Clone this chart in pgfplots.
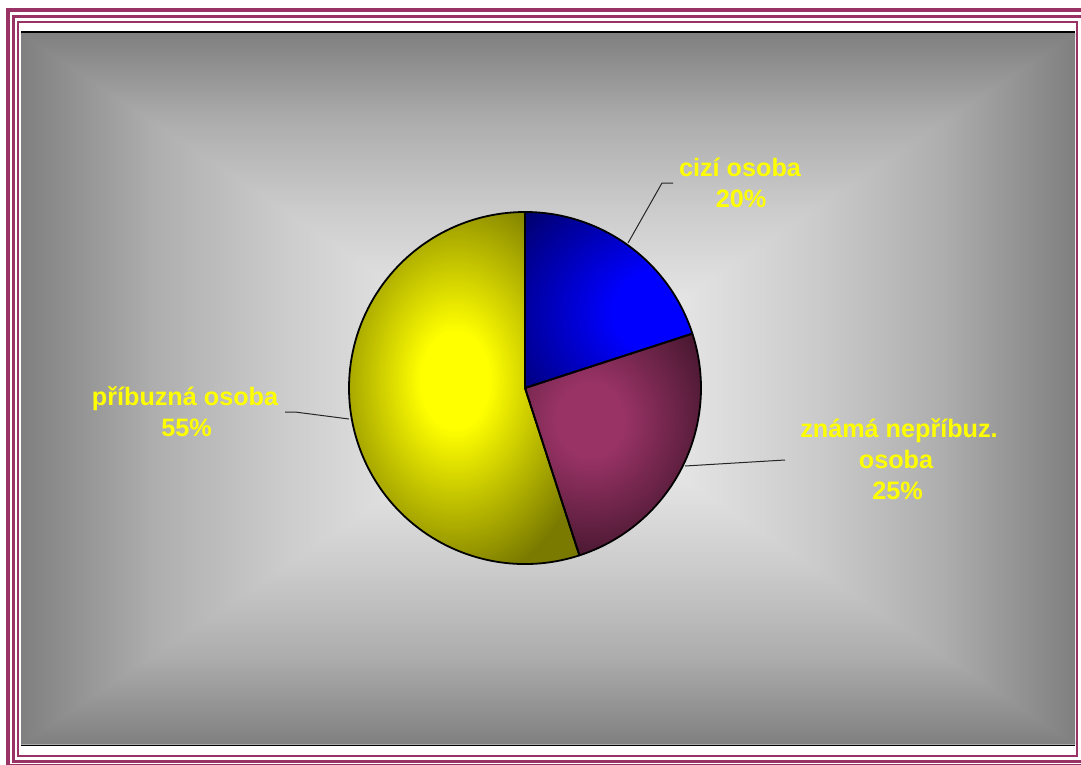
\documentclass[border=0pt]{standalone}
\usepackage{fontspec}
\setmainfont{Liberation Sans}
\usepackage{pgfplots}
\pgfplotsset{compat=1.18}
\usepackage{pgfplotstable}

\definecolor{framec}{HTML}{993366}
\definecolor{c0}{gray}{0.50}
\definecolor{c25}{gray}{0.68}
\definecolor{c50}{gray}{0.80}
\definecolor{c75}{gray}{0.895}
\definecolor{c100}{gray}{0.955}
\definecolor{blueB}{HTML}{0000FF}
\definecolor{blueD}{HTML}{000066}
\definecolor{marB}{HTML}{993366}
\definecolor{marD}{HTML}{3E1429}
\definecolor{yelB}{HTML}{FFFF00}
\definecolor{yelD}{HTML}{7A7A00}
\definecolor{lab}{HTML}{FFFF00}

\pgfdeclareverticalshading{bgTop}{100bp}{color(0bp)=(c100); color(25bp)=(c100); color(37.5bp)=(c75); color(50bp)=(c50); color(62.5bp)=(c25); color(75bp)=(c0); color(100bp)=(c0)}
\pgfdeclareverticalshading{bgBot}{100bp}{color(0bp)=(c0); color(25bp)=(c0); color(37.5bp)=(c25); color(50bp)=(c50); color(62.5bp)=(c75); color(75bp)=(c100); color(100bp)=(c100)}
\pgfdeclarehorizontalshading{bgLeft}{100bp}{color(0bp)=(c0); color(25bp)=(c0); color(37.5bp)=(c25); color(50bp)=(c50); color(62.5bp)=(c75); color(75bp)=(c100); color(100bp)=(c100)}
\pgfdeclarehorizontalshading{bgRight}{100bp}{color(0bp)=(c100); color(25bp)=(c100); color(37.5bp)=(c75); color(50bp)=(c50); color(62.5bp)=(c25); color(75bp)=(c0); color(100bp)=(c0)}
\pgfdeclareradialshading{blueS}{\pgfpoint{0bp}{0bp}}{color(0bp)=(blueB); color(7bp)=(blueB); color(25bp)=(blueD); color(50bp)=(blueD)}
\pgfdeclareradialshading{marS}{\pgfpoint{0bp}{0bp}}{color(0bp)=(marB); color(6bp)=(marB); color(25bp)=(marD); color(50bp)=(marD)}
\pgfdeclareradialshading{yelS}{\pgfpoint{0bp}{0bp}}{color(0bp)=(yelB); color(6bp)=(yelB); color(25bp)=(yelD); color(50bp)=(yelD)}

\pgfplotstableread{
part value
1 20
2 25
3 55
}\piedata

\begin{document}
\begin{tikzpicture}
\pgfplotstablegetelem{0}{value}\of\piedata\edef\vA{\pgfplotsretval}
\pgfplotstablegetelem{1}{value}\of\piedata\edef\vB{\pgfplotsretval}
\pgfplotstablegetelem{2}{value}\of\piedata\edef\vC{\pgfplotsretval}
\pgfmathsetmacro\aO{90}
\pgfmathsetmacro\aA{90-3.6*\vA}
\pgfmathsetmacro\aB{\aA-3.6*\vB}
\pgfmathsetmacro\aC{\aB-3.6*\vC}
\def\R{88pt}
\fill[white] (0,0) rectangle (540.5pt,382.5pt);
\begin{axis}[at={(0,0)}, anchor=south west, scale only axis,
  width=540.5pt, height=382.5pt, xmin=0, xmax=1081, ymin=0, ymax=765,
  y dir=reverse, hide axis, clip=false]
% background gradient (rectangular, from centre)
\begin{scope}
\clip (axis cs:21,33) rectangle (axis cs:1075,744.5);
\shade[shading=bgTop] (axis cs:16,33) -- (axis cs:1080,33) -- (axis cs:553,388.5) -- (axis cs:543,388.5) -- cycle;
\shade[shading=bgBot] (axis cs:16,744.5) -- (axis cs:1080,744.5) -- (axis cs:553,388.5) -- (axis cs:543,388.5) -- cycle;
\shade[shading=bgLeft] (axis cs:21,33) -- (axis cs:21,744.5) -- (axis cs:548,388.5) -- cycle;
\shade[shading=bgRight] (axis cs:1075,33) -- (axis cs:1075,744.5) -- (axis cs:548,388.5) -- cycle;
\end{scope}
\draw[black, line width=0.8pt] (axis cs:21,32.3) -- (axis cs:1075,32.3);
\draw[black, line width=0.8pt] (axis cs:21,745.3) -- (axis cs:1075,745.3);
% frame
\draw[framec, line width=2pt] (axis cs:8,10.5) rectangle (axis cs:1089,766);
\draw[framec, line width=1.5pt] (axis cs:13.5,16.5) rectangle (axis cs:1084,761);
\draw[framec, line width=1.25pt] (axis cs:18,21.8) rectangle (axis cs:1077,755.8);
% slices
\fill[blueD] (axis cs:525,388) -- ++(\aO:\R) arc[start angle=\aO, end angle=\aA, radius=\R] -- cycle;
\begin{scope}
\clip (axis cs:525,388) -- ++(\aO:\R) arc[start angle=\aO, end angle=\aA, radius=\R] -- cycle;
\shade[shading=blueS] (axis cs:668,312) ellipse[x radius=98pt, y radius=78pt];
\end{scope}
\fill[marD] (axis cs:525,388) -- ++(\aA:\R) arc[start angle=\aA, end angle=\aB, radius=\R] -- cycle;
\begin{scope}
\clip (axis cs:525,388) -- ++(\aA:\R) arc[start angle=\aA, end angle=\aB, radius=\R] -- cycle;
\shade[shading=marS] (axis cs:590,420) ellipse[x radius=70pt, y radius=76pt];
\end{scope}
\fill[yelD] (axis cs:525,388) -- ++(\aB:\R) arc[start angle=\aB, end angle=\aC, radius=\R] -- cycle;
\begin{scope}
\clip (axis cs:525,388) -- ++(\aB:\R) arc[start angle=\aB, end angle=\aC, radius=\R] -- cycle;
\shade[shading=yelS] (axis cs:455,380) ellipse[x radius=72pt, y radius=102pt];
\end{scope}
\draw[black, line width=0.9pt, line join=round] (axis cs:525,388) -- ++(\aO:\R) arc[start angle=\aO, end angle=\aA, radius=\R] -- cycle;
\draw[black, line width=0.9pt, line join=round] (axis cs:525,388) -- ++(\aA:\R) arc[start angle=\aA, end angle=\aB, radius=\R] -- cycle;
\draw[black, line width=0.9pt, line join=round] (axis cs:525,388) -- ++(\aB:\R) arc[start angle=\aB, end angle=\aC, radius=\R] -- cycle;
% leader lines
\draw[black!85, line width=0.5pt] (axis cs:673,183) -- (axis cs:662,183) -- (axis cs:628,243);
\draw[black!85, line width=0.5pt] (axis cs:285,412) -- (axis cs:295,412) -- (axis cs:349,419);
\draw[black!85, line width=0.5pt] (axis cs:785,460) -- (axis cs:685,466);
% labels
\tikzset{lbl/.style={anchor=base, inner sep=0pt, text=lab, font=\fontsize{12.6}{15}\selectfont\bfseries}}
\node[lbl] at (axis cs:740,176.5) {cizí osoba};
\node[lbl] at (axis cs:741,207.5) {20\%};
\node[lbl] at (axis cs:185,405.5) {příbuzná osoba};
\node[lbl] at (axis cs:186.5,436.5) {55\%};
\node[lbl] at (axis cs:899,437.5) {známá nepříbuz.};
\node[lbl] at (axis cs:896,468.5) {osoba};
\node[lbl] at (axis cs:897.5,499.5) {25\%};
\end{axis}
\pgfresetboundingbox
\useasboundingbox (0,0) rectangle (540.5pt,382.5pt);
\end{tikzpicture}
\end{document}
